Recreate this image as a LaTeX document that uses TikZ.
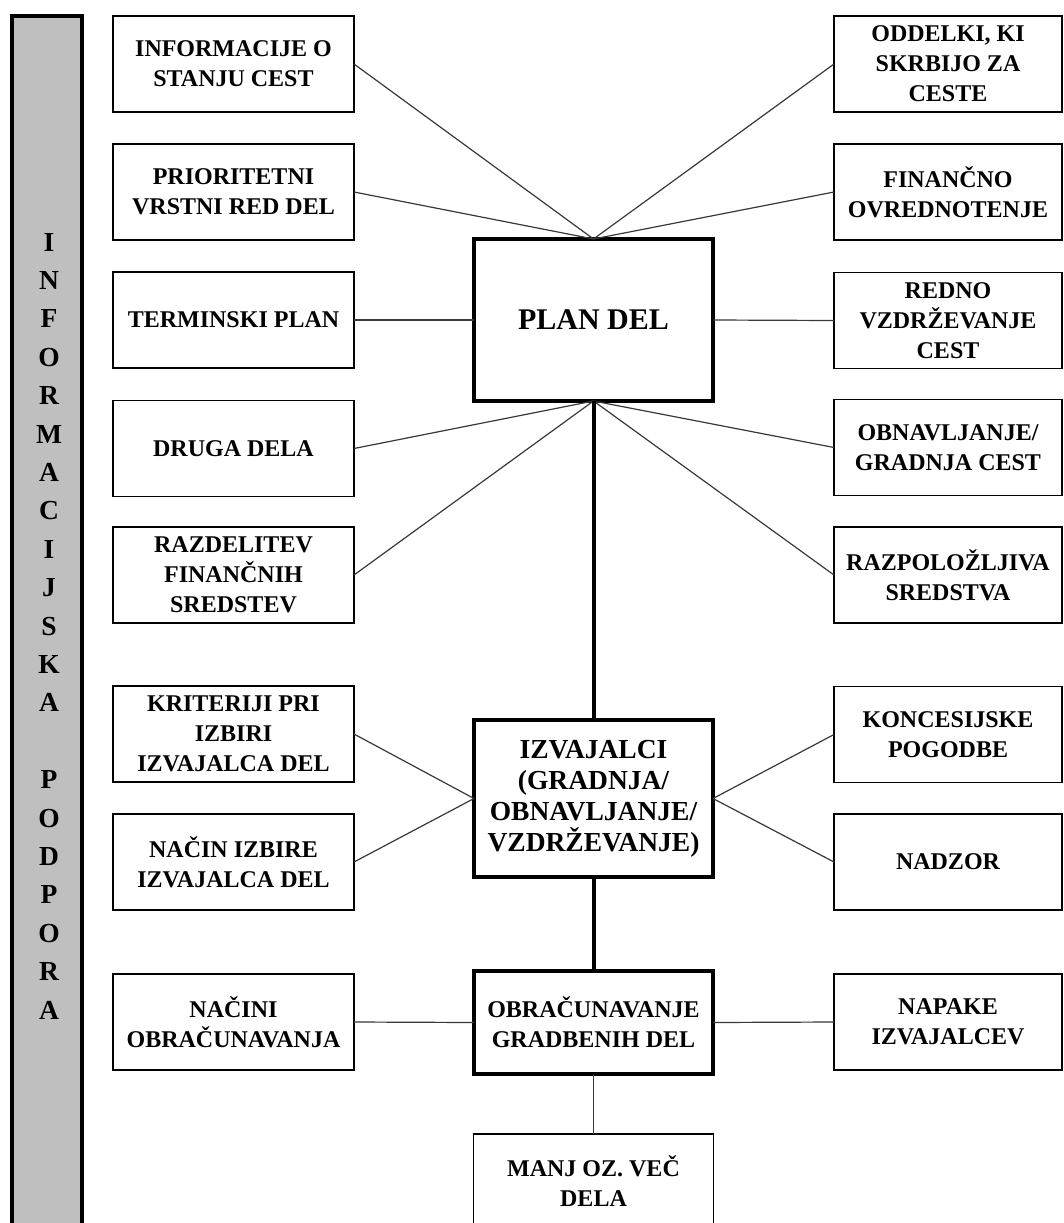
\documentclass[tikz,border=0pt]{standalone}
\usepackage{fontspec}
\setmainfont{Liberation Serif}
\begin{document}
\begin{tikzpicture}[x=1pt,y=-1pt,
  box/.style={draw=black, line width=1.3pt, fill=white, inner sep=0pt, outer sep=0pt,
              align=center, font=\fontsize{24}{30}\selectfont\bfseries, minimum height=96pt},
  lbox/.style={box, minimum width=241pt},
  rbox/.style={box, minimum width=228pt},
  hub/.style={box, line width=3.2pt, minimum width=239pt},
  link/.style={draw=black!78, line width=1.2pt},
  spine/.style={draw=black, line width=4pt}]

\useasboundingbox (0,0) rectangle (1064,1223);

% side bar
\draw[line width=3.5pt, fill=black!25] (12,16) rectangle (82,1240);
\node[font=\fontsize{27.5}{38.4}\selectfont\bfseries, align=center, inner sep=0pt] (bar) at (49,626)
  {I\\N\\F\\O\\R\\M\\A\\C\\I\\J\\S\\K\\A\\[38.4pt]P\\O\\D\\P\\O\\R\\A};

% left column
\node[lbox] (l1) at (233.5,64)  {INFORMACIJE O\\STANJU CEST};
\node[lbox] (l2) at (233.5,192) {PRIORITETNI\\VRSTNI RED DEL};
\node[lbox] (l3) at (233.5,320) {TERMINSKI PLAN};
\node[lbox] (l4) at (233.5,448.5) {DRUGA DELA};
\node[lbox] (l5) at (233.5,575) {RAZDELITEV\\FINANČNIH\\SREDSTEV};
\node[lbox] (l6) at (233.5,734) {KRITERIJI PRI\\IZBIRI\\IZVAJALCA DEL};
\node[lbox] (l7) at (233.5,862) {NAČIN IZBIRE\\IZVAJALCA DEL};
\node[lbox] (l8) at (233.5,1022) {NAČINI\\OBRAČUNAVANJA};

% right column
\node[rbox] (r1) at (948,64)  {ODDELKI, KI\\SKRBIJO ZA\\CESTE};
\node[rbox] (r2) at (948,192) {FINANČNO\\OVREDNOTENJE};
\node[rbox] (r3) at (948,320.5) {REDNO\\VZDRŽEVANJE\\CEST};
\node[rbox] (r4) at (948,447.5) {OBNAVLJANJE/\\GRADNJA CEST};
\node[rbox] (r5) at (948,575) {RAZPOLOŽLJIVA\\SREDSTVA};
\node[rbox] (r6) at (948,734.5) {KONCESIJSKE\\POGODBE};
\node[rbox] (r7) at (948,862) {NADZOR};
\node[rbox] (r8) at (948,1022) {NAPAKE\\IZVAJALCEV};

% central column
\node[hub, minimum height=162pt, font=\fontsize{30}{36}\selectfont\bfseries] (plan) at (593.5,320) {PLAN DEL};
\node[hub, minimum height=157pt, font=\fontsize{27.5}{31}\selectfont\bfseries] (izv) at (593.5,798.5)
  {IZVAJALCI\\(GRADNJA/\\OBNAVLJANJE/\\VZDRŽEVANJE)};
\node[hub, minimum height=103pt] (obr) at (593.5,1022.5) {OBRAČUNAVANJE\\GRADBENIH DEL};
\node[box, minimum width=240pt, minimum height=94pt] (manj) at (593.5,1181) {MANJ OZ. VEČ\\DELA};

% connectors into PLAN DEL
\path[link] (l1.east) -- (plan.north);
\path[link] (l2.east) -- (plan.north);
\path[link] (r1.west) -- (plan.north);
\path[link] (r2.west) -- (plan.north);
\path[link] (l3.east) -- (plan.west);
\path[link] (r3.west) -- (plan.east);
\path[link] (l4.east) -- (plan.south);
\path[link] (l5.east) -- (plan.south);
\path[link] (r4.west) -- (plan.south);
\path[link] (r5.west) -- (plan.south);

% connectors into IZVAJALCI
\path[link] (l6.east) -- (izv.west);
\path[link] (l7.east) -- (izv.west);
\path[link] (r6.west) -- (izv.east);
\path[link] (r7.west) -- (izv.east);

% connectors into OBRAČUNAVANJE
\path[link] (l8.east) -- (obr.west);
\path[link] (r8.west) -- (obr.east);
\path[link] (obr.south) -- (manj.north);

% main spine
\path[spine] (plan.south) -- (izv.north);
\path[spine] (izv.south) -- (obr.north);
\end{tikzpicture}
\end{document}
